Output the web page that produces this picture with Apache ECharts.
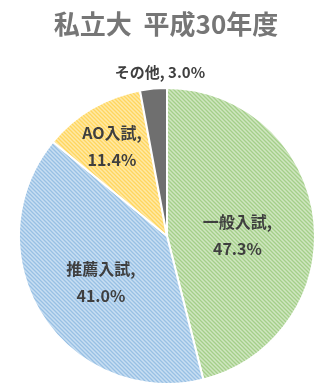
<!DOCTYPE html>
<html>
<head>
<meta charset="utf-8">
<script src="https://cdn.jsdelivr.net/npm/echarts@6/dist/echarts.min.js"></script>
<style>
  html, body { margin: 0; padding: 0; background: #fff; }
  #chart { width: 332px; height: 388px; }
</style>
</head>
<body>
<div id="chart"></div>
<script>
// 入試区分別の入学者割合（私立大・平成30年度）
const categories = ['一般入試', '推薦入試', 'AO入試', 'その他'];
const shares = [47.3, 41.0, 11.4, 3.0];

// 斜線ハッチの地色と線色
const baseColors = ['#cfe6c0', '#c8def2', '#ffe9a6', '#6f6f6f'];
const stripeColors = ['#a4cf89', '#98c0e4', '#ffd65e', null];

// ラベルの位置調整 (dx, dy)
const labelShift = [[-6, 9], [-1, 5], [-16, -23], [0, -87]];

function hatch(bg, fg) {
  if (!fg) return bg;
  const size = 4;
  const c = document.createElement('canvas');
  c.width = size; c.height = size;
  const g = c.getContext('2d');
  g.fillStyle = bg;
  g.fillRect(0, 0, size, size);
  g.strokeStyle = fg;
  g.lineWidth = 1.3;
  g.beginPath();
  g.moveTo(-1, -1); g.lineTo(size + 1, size + 1);
  g.moveTo(-1, size - 1); g.lineTo(1, size + 1);
  g.moveTo(size - 1, -1); g.lineTo(size + 1, 1);
  g.stroke();
  return { image: c, repeat: 'repeat' };
}

const chart = echarts.init(document.getElementById('chart'), null, { renderer: 'canvas' });

chart.setOption({
  animation: false,
  backgroundColor: '#ffffff',
  title: {
    text: '私立大  平成30年度',
    left: 'center',
    top: 6,
    textStyle: {
      fontFamily: '"Noto Sans CJK JP", sans-serif',
      fontSize: 26,
      fontWeight: 'bold',
      color: '#767676'
    }
  },
  series: [{
    type: 'pie',
    center: [167, 236],
    radius: 148,
    startAngle: 90,
    clockwise: true,
    avoidLabelOverlap: false,
    itemStyle: { borderColor: '#ffffff', borderWidth: 2 },
    label: {
      show: true,
      position: 'inside',
      fontFamily: '"Noto Sans CJK JP", sans-serif',
      fontSize: 16,
      fontWeight: 'bold',
      color: '#3f3f3f',
      lineHeight: 27,
      formatter: p => p.name + ',\n' + p.value.toFixed(1) + '%'
    },
    labelLine: { show: false },
    labelLayout: p => ({ dx: labelShift[p.dataIndex][0], dy: labelShift[p.dataIndex][1] }),
    data: categories.map((name, i) => {
      const d = {
        name: name,
        value: shares[i],
        itemStyle: { color: hatch(baseColors[i], stripeColors[i]) }
      };
      if (i === 3) {
        d.label = { formatter: p => p.name + ', ' + p.value.toFixed(1) + '%', fontSize: 15 };
      }
      return d;
    })
  }]
});
</script>
</body>
</html>
